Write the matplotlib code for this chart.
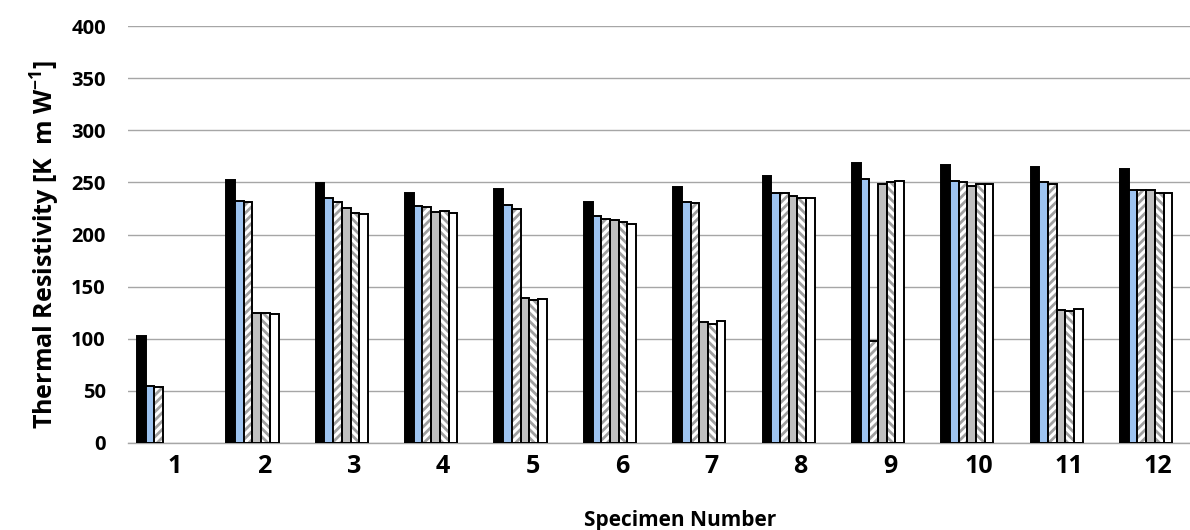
import matplotlib
matplotlib.use("Agg")
import matplotlib.pyplot as plt
import numpy as np

plt.rcParams['font.family'] = ['Open Sans', 'DejaVu Sans']
plt.rcParams['hatch.linewidth'] = 2.0
plt.rcParams['mathtext.fontset'] = 'custom'
plt.rcParams['mathtext.rm'] = 'Open Sans:bold'
plt.rcParams['mathtext.bf'] = 'Open Sans:bold'
plt.rcParams['mathtext.default'] = 'bf'

specimens = ['1', '2', '3', '4', '5', '6', '7', '8', '9', '10', '11', '12']
s1 = [103, 252, 249, 240, 244, 231, 246, 256, 269, 267, 265, 263]
s2 = [55, 232, 235, 227, 228, 218, 231, 240, 253, 251, 250, 243]
s3 = [54, 231, 231, 226, 224, 215, 230, 240, 98, 250, 248, 243]
s4 = [np.nan, 125, 225, 222, 139, 214, 116, 237, 248, 247, 128, 243]
s5 = [np.nan, 125, 221, 223, 137, 212, 114, 235, 250, 248, 127, 240]
s6 = [np.nan, 124, 220, 221, 138, 210, 117, 235, 251, 248, 129, 240]
series = [s1, s2, s3, s4, s5, s6]

styles = [
    dict(face='black', hatch=None),
    dict(face='#9DC3F0', hatch=None),
    dict(face='white', hatch='////'),
    dict(face='#BFBFBF', hatch=None),
    dict(face='white', hatch='\\\\\\\\'),
    dict(face='white', hatch=None),
]

fig = plt.figure(figsize=(11.9, 5.3), dpi=100)
ax = fig.add_axes([128/1190, 1-443/530, (1190-128)/1190, (443-26)/530])

x = np.arange(1, len(specimens)+1)
w = 0.0973
start = -0.425
for i, (vals, st) in enumerate(zip(series, styles)):
    pos = x + start + (i + 0.5) * w
    v = np.array(vals, dtype=float)
    if st['hatch']:
        ax.bar(pos, v, width=w, color=st['face'], edgecolor='#A0A0A0',
               hatch=st['hatch'], linewidth=0, zorder=3)
        ax.bar(pos, v, width=w, facecolor='none', edgecolor='black',
               linewidth=1.4, zorder=4)
    else:
        ax.bar(pos, v, width=w, color=st['face'], edgecolor='black',
               linewidth=1.4, zorder=3)

ax.set_xlim(1 - 47/89.4, 12 + 32/89.4)
ax.set_ylim(0, 400)
ax.set_yticks(np.arange(0, 401, 50))
ax.set_xticks(x)
ax.set_xticklabels(specimens, fontsize=18, fontweight='bold')
for lab in ax.get_yticklabels():
    lab.set_fontsize(14.5)
    lab.set_fontweight('bold')
ax.tick_params(axis='both', length=0)
ax.tick_params(axis='y', pad=16)
ax.tick_params(axis='x', pad=8)
ax.yaxis.grid(True, color='#A6A6A6', linewidth=1.0, zorder=0)
ax.set_axisbelow(True)
for sp in ['top', 'right', 'left']:
    ax.spines[sp].set_visible(False)
ax.spines['bottom'].set_color('#A6A6A6')
ax.spines['bottom'].set_linewidth(1.0)

fig.text(45/1190, 1-245/530, 'Thermal Resistivity [K  m W$^{-1}$]',
         rotation=90, ha='center', va='center', fontsize=18, fontweight='bold')
fig.text(680/1190, 1-510/530, 'Specimen Number', ha='center', va='top',
         fontsize=15, fontweight='bold')

fig.savefig('out.png', dpi=100, facecolor='white')
